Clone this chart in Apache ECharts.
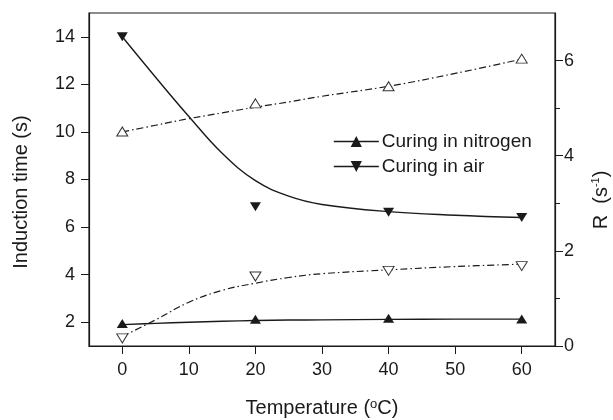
<!DOCTYPE html>
<html>
<head>
<meta charset="utf-8">
<script src="https://cdn.jsdelivr.net/npm/echarts@6/dist/echarts.min.js"></script>
<style>
  html, body { margin: 0; padding: 0; background: #fff; }
  #chart { width: 613px; height: 420px; }
</style>
</head>
<body>
<div id="chart"></div>
<script>
// measured points
var temps = [0, 20, 40, 60];
var nitrogenTime = [1.95, 2.12, 2.17, 2.13];
var airTime = [14.0, 6.85, 6.62, 6.4];
var nitrogenRate = [4.51, 5.1, 5.46, 6.04];
var airRate = [0.16, 1.46, 1.58, 1.68];

// fitted curves
var fitTemps = [0, 5, 10, 15, 20, 25, 30, 40, 50, 60];
var nitrogenTimeFit = [1.9, 1.95, 2.0, 2.04, 2.07, 2.09, 2.1, 2.12, 2.13, 2.13];
var airTimeFit = [14.0, 12.3, 10.65, 9.1, 7.95, 7.3, 6.95, 6.65, 6.5, 6.4];
var nitrogenRateFit = [4.5, 4.64, 4.78, 4.9, 5.02, 5.13, 5.25, 5.46, 5.73, 6.03];
var airRateFit = [0.2, 0.55, 0.92, 1.17, 1.32, 1.44, 1.52, 1.6, 1.67, 1.72];

// tick labels
var xTicks = [0, 10, 20, 30, 40, 50, 60];
var leftTicks = [2, 4, 6, 8, 10, 12, 14];
var rightTicks = [0, 2, 4, 6];
var rightMinor = [1, 3, 5];

var FONT = 'Liberation Sans, Arial, sans-serif';
var INK = '#1a1a1a';

function pairs(xs, ys) {
    return xs.map(function(x, i) { return [x, ys[i]]; });
}

var dashDot = [7, 3, 1.5, 3];

function fitLine(ys, axis, dashed) {
    return {
        type: 'line',
        yAxisIndex: axis,
        data: pairs(fitTemps, ys),
        smooth: 0.4,
        symbol: 'none',
        silent: true,
        lineStyle: { color: INK, width: dashed ? 1.2 : 1.4, type: dashed ? dashDot : 'solid' },
        z: 2
    };
}

function markers(name, ys, axis, rotate, open) {
    return {
        type: 'line',
        name: name,
        yAxisIndex: axis,
        data: pairs(temps, ys),
        symbol: 'triangle',
        symbolRotate: rotate,
        symbolSize: [11, 9],
        lineStyle: { width: 0, opacity: 0 },
        itemStyle: open
            ? { color: '#fff', borderColor: '#333', borderWidth: 1 }
            : { color: INK, borderWidth: 0 },
        z: 3
    };
}

var chart = echarts.init(document.getElementById('chart'));

chart.setOption({
    backgroundColor: '#fff',
    animation: false,
    textStyle: { fontFamily: FONT },
    grid: {
        left: 89, top: 13, right: 58, bottom: 74,
        outerBoundsMode: 'none',
        show: true, borderColor: INK, borderWidth: 1.2
    },
    legend: {
        data: ['Curing in nitrogen', 'Curing in air'],
        orient: 'vertical',
        left: 328, top: 127,
        itemWidth: 45, itemHeight: 14, itemGap: 6,
        lineStyle: { width: 1.6, opacity: 1, color: INK },
        textStyle: { fontSize: 19, color: INK, fontFamily: FONT, padding: [0, 0, 0, -2] }
    },
    xAxis: {
        type: 'value',
        min: -5, max: 65,
        name: 'Temperature ({sup|o}C)',
        nameLocation: 'middle',
        nameGap: 52,
        nameTextStyle: {
            fontSize: 20, color: INK, fontFamily: FONT,
            rich: { sup: { fontSize: 13, verticalAlign: 'top', fontFamily: FONT, color: INK } }
        },
        axisLine: { onZero: false, lineStyle: { color: INK, width: 1.2 } },
        axisTick: { customValues: xTicks, length: 8, inside: false, lineStyle: { color: INK } },
        axisLabel: { customValues: xTicks, fontSize: 18, color: INK, margin: 15 },
        splitLine: { show: false }
    },
    yAxis: [{
        type: 'value',
        min: 1, max: 15,
        position: 'left',
        axisLine: { show: true, onZero: false, lineStyle: { color: INK, width: 1.2 } },
        axisTick: { show: true, customValues: leftTicks, length: 8, lineStyle: { color: INK } },
        axisLabel: { customValues: leftTicks, fontSize: 18, color: INK, margin: 14 },
        splitLine: { show: false }
    }, {
        type: 'value',
        min: 0, max: 7,
        position: 'right',
        axisLine: { show: true, onZero: false, lineStyle: { color: INK, width: 1.2 } },
        axisTick: { show: true, customValues: rightTicks, length: 8, lineStyle: { color: INK } },
        axisLabel: { customValues: rightTicks, fontSize: 18, color: INK, margin: 9 },
        splitLine: { show: false }
    }, {
        // minor ticks on the right
        type: 'value',
        min: 0, max: 7,
        position: 'right',
        axisLine: { show: false, onZero: false },
        axisTick: { show: true, customValues: rightMinor, length: 5, lineStyle: { color: INK } },
        axisLabel: { show: false },
        splitLine: { show: false }
    }],
    graphic: [{
        type: 'text',
        x: 21, y: 192,
        rotation: Math.PI / 2,
        style: {
            text: 'Induction time (s)',
            font: '20px ' + FONT,
            fill: INK,
            align: 'center',
            verticalAlign: 'middle'
        }
    }, {
        type: 'text',
        x: 601, y: 200,
        rotation: Math.PI / 2,
        style: {
            text: '{a|R  (s}{b|-1}{a|)}',
            fill: INK,
            align: 'center',
            verticalAlign: 'middle',
            rich: {
                a: { fontSize: 20, fontFamily: FONT, fill: INK, lineHeight: 22 },
                b: { fontSize: 11, fontFamily: FONT, fill: INK, verticalAlign: 'top', lineHeight: 22 }
            }
        }
    }],
    series: [
        fitLine(nitrogenTimeFit, 0, false),
        fitLine(airTimeFit, 0, false),
        fitLine(nitrogenRateFit, 1, true),
        fitLine(airRateFit, 1, true),
        markers('Curing in nitrogen', nitrogenTime, 0, 0, false),
        markers('Curing in air', airTime, 0, 180, false),
        markers('nitrogen rate', nitrogenRate, 1, 0, true),
        markers('air rate', airRate, 1, 180, true)
    ]
});
</script>
</body>
</html>
